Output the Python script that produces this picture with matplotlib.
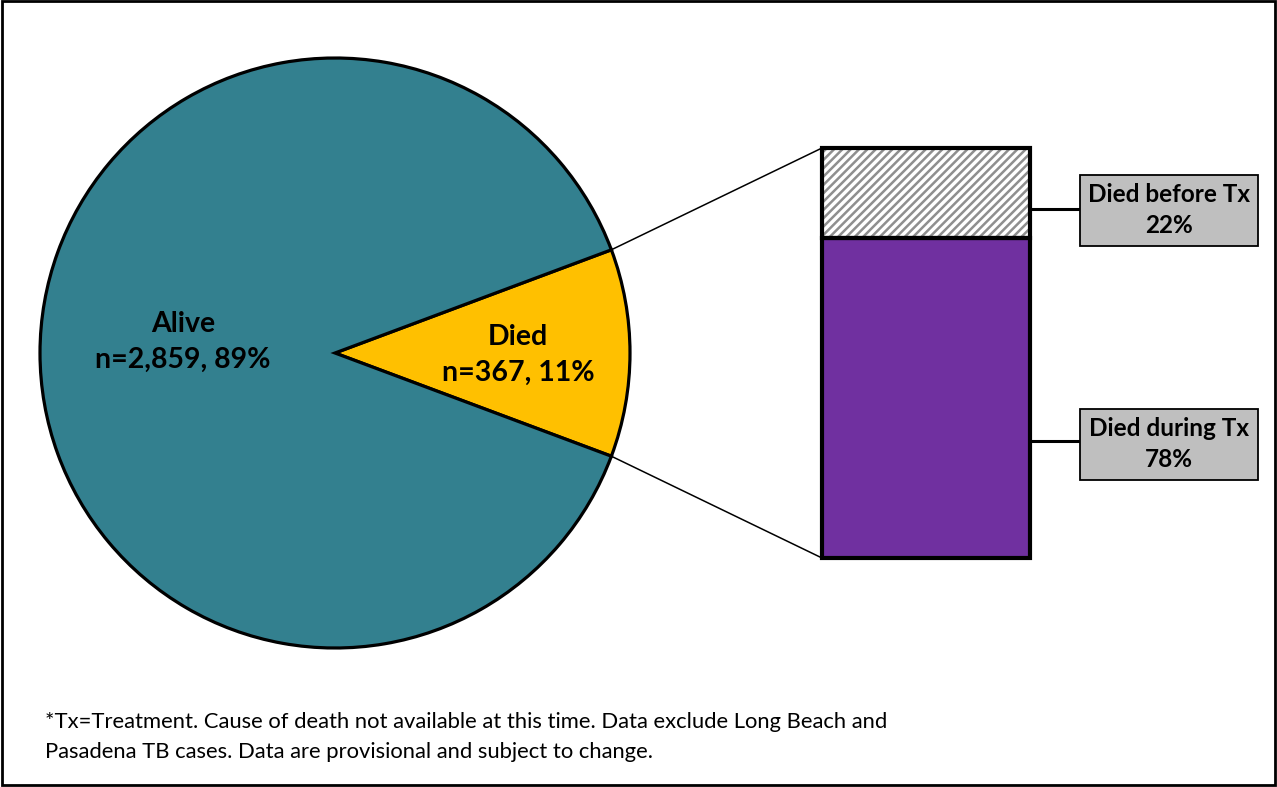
import numpy as np
import matplotlib
matplotlib.use('Agg')
import matplotlib.pyplot as plt
import matplotlib.patches as patches

plt.rcParams['font.family'] = ['Lato', 'DejaVu Sans']
plt.rcParams['hatch.linewidth'] = 1.8

# outcome counts
outcomes = ['Died', 'Alive']
counts = [367, 2859]
pcts = [11, 89]

# breakdown of deaths
death_groups = ['Died during Tx', 'Died before Tx']
death_pcts = [78, 22]

footnote = ['*Tx=Treatment. Cause of death not available at this time. Data exclude Long Beach and',
            'Pasadena TB cases. Data are provisional and subject to change.']

W, H = 1277, 787
fig = plt.figure(figsize=(W / 100, H / 100), dpi=100)
ax = fig.add_axes([0, 0, 1, 1])

# pie, with the small slice centred on the right
cx, cy, r = 335, 434, 295
died_angle = counts[0] / sum(counts) * 360
start = -died_angle / 2
wedges, _ = ax.pie(counts, colors=['#FFC000', '#33808F'], startangle=start,
                   center=(cx, cy), radius=r, counterclock=True,
                   wedgeprops=dict(edgecolor='black', linewidth=2.3))
ax.set_xlim(0, W)
ax.set_ylim(0, H)
ax.set_aspect('equal')
ax.axis('off')

ax.text(183, 445, 'Alive\nn={:,}, {}%'.format(counts[1], pcts[1]), ha='center', va='center',
        fontsize=20.5, fontweight='bold', linespacing=1.45)
ax.text(518, 432, 'Died\nn={:,}, {}%'.format(counts[0], pcts[0]), ha='center', va='center',
        fontsize=20.5, fontweight='bold', linespacing=1.45)

# stacked bar for the deaths
bx, bw, by, bh = 822, 208, 229, 410
bottom = by
bar_colors = ['#7030A0', 'white']
bar_hatch = [None, '////']
for pct, col, hat in zip(death_pcts, bar_colors, bar_hatch):
    h = bh * pct / 100
    if hat:
        ax.add_patch(patches.Rectangle((bx, bottom), bw, h, facecolor=col, hatch=hat,
                                       edgecolor='#8f8f8f', linewidth=0, zorder=3))
    else:
        ax.add_patch(patches.Rectangle((bx, bottom), bw, h, facecolor=col, linewidth=0, zorder=3))
    ax.add_patch(patches.Rectangle((bx, bottom), bw, h, fill=False,
                                   edgecolor='black', linewidth=3, zorder=4))
    bottom += h

# lines joining the slice to the bar
a1 = np.deg2rad(start + died_angle)
a0 = np.deg2rad(start)
ax.plot([cx + r * np.cos(a1), bx], [cy + r * np.sin(a1), by + bh], color='black', lw=1.1, zorder=2)
ax.plot([cx + r * np.cos(a0), bx], [cy + r * np.sin(a0), by], color='black', lw=1.1, zorder=2)

# callout boxes
box_x, box_w, box_h = 1080, 178, 71
box_y = [343, 577]
line_y = [346, 578]
for name, pct, yc, yl in zip(death_groups, death_pcts, box_y, line_y):
    ax.plot([bx + bw, box_x], [yl, yl], color='black', lw=2.2, zorder=2)
    ax.add_patch(patches.Rectangle((box_x, yc - box_h / 2), box_w, box_h, facecolor='#BFBFBF',
                                   edgecolor='black', linewidth=1.3, zorder=3))
    ax.text(box_x + box_w / 2, yc, '{}\n{}%'.format(name, pct), ha='center', va='center',
            fontsize=17.5, fontweight='bold', linespacing=1.4, zorder=4)

ax.text(45, 59, footnote[0], ha='left', va='baseline', fontsize=15.8)
ax.text(45, 29, footnote[1], ha='left', va='baseline', fontsize=15.8)

# frame around the whole chart
ax.add_patch(patches.Rectangle((2, 2), W - 4, H - 3, fill=False, edgecolor='black', linewidth=2))

fig.savefig('out.png', dpi=100)
